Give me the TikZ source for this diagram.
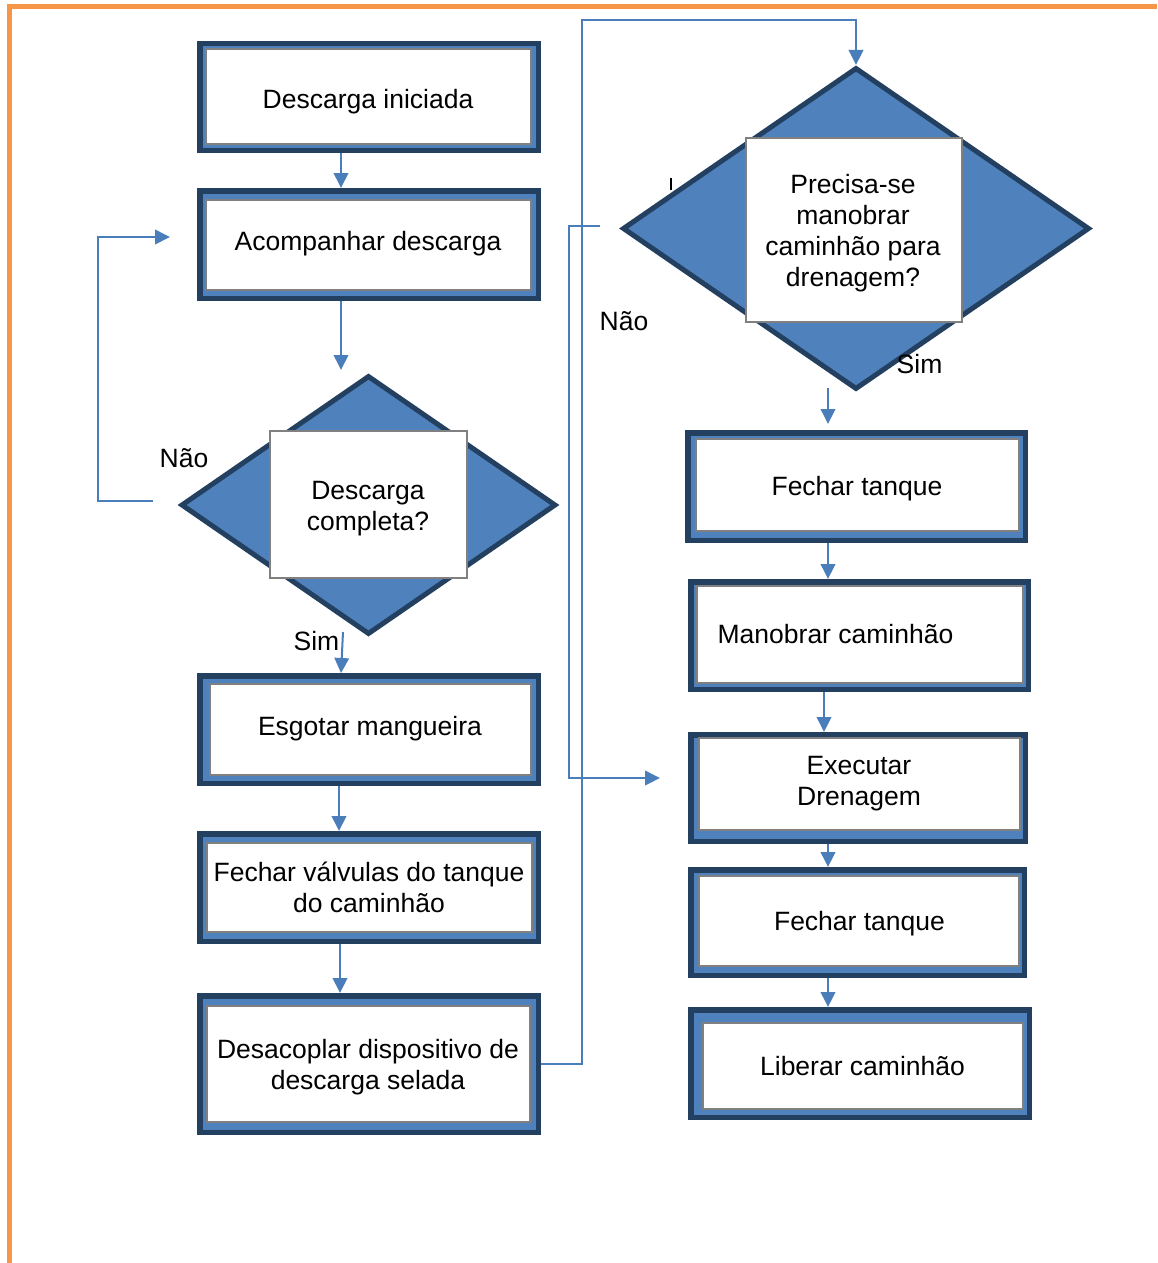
\documentclass[tikz,border=0pt]{standalone}
\usepackage{fontspec}
\setmainfont{Liberation Sans}
\usetikzlibrary{arrows.meta,shapes.geometric}
\definecolor{boxnavy}{RGB}{36,64,97}
\definecolor{fillblue}{RGB}{79,129,189}
\definecolor{edgegray}{RGB}{128,128,128}
\definecolor{connblue}{RGB}{74,126,187}
\definecolor{frameorange}{RGB}{247,150,70}
\newcommand{\sst}{\rule[-6pt]{0pt}{31pt}}
\newcommand{\flowbx}[9]{%
  \node[outerbox, minimum width={#4-#2-5.5}, minimum height={#5-#3-5.5}] (#1) at ({(#2+#4)/2},{(#3+#5)/2}) {};
  \node[innerbox, minimum width={#8-#6-2.3}, minimum height={#9-#7-2.3}] (#1-in) at ({(#6+#8)/2},{(#7+#9)/2}) {};
}
\begin{document}
\begin{tikzpicture}[x=1pt, y=-1pt,
  outerbox/.style={draw=boxnavy, fill=fillblue, line width=5.5pt, inner sep=0pt},
  innerbox/.style={draw=edgegray, fill=white, line width=2.3pt, inner sep=0pt},
  txt/.style={inner sep=0pt, align=center, font=\fontsize{26.5}{31}\selectfont},
  conn/.style={draw=connblue, line width=2pt},
  arr/.style={conn, -{Triangle[length=15pt,width=14.5pt]}},
  dec/.style={diamond, draw=boxnavy, fill=fillblue, line width=5pt, inner sep=0pt, line join=miter}]
\useasboundingbox[fill=white] (0,0) rectangle (1157,1263);
% orange frame
\draw[frameorange, line width=5pt] (9.5,1263) -- (9.5,6.5) -- (1157,6.5);

% left column boxes
\flowbx{b1}{197}{41}{541}{153}{205}{48}{532}{145}
\flowbx{b2}{197}{188}{541}{301}{205}{199}{532}{291}
\flowbx{b3}{197}{673}{541}{786}{209}{683}{532}{776}
\flowbx{b4}{197}{831}{541}{944}{206}{842}{533}{933}
\flowbx{b5}{197}{993}{541}{1135}{206}{1005}{531}{1123}
% right column boxes
\flowbx{b6}{685}{430}{1028}{543}{695}{438}{1020}{532}
\flowbx{b7}{688}{579}{1031}{692}{696}{585}{1024}{684}
\flowbx{b8}{688}{732}{1028}{844}{698}{737}{1021}{831}
\flowbx{b9}{688}{867}{1027}{978}{698}{875}{1020}{967}
\flowbx{b10}{688}{1007}{1032}{1120}{702}{1022}{1024}{1110}

% decisions
\node[dec, minimum width=375, minimum height=259] (D1) at (368.5,505) {};
\node[innerbox, minimum width={468-269-2.3}, minimum height={579-430-2.3}] (D1-in) at (368.5,504.5) {};
\node[dec, minimum width=467, minimum height=322] (D2) at (856,228.5) {};
\node[innerbox, minimum width={963-745-2.3}, minimum height={323-137-2.3}] (D2-in) at (854,230) {};

% texts
\node[txt] (b1-t) at (368,98.5) {\sst Descarga iniciada};
\node[txt] (b2-t) at (368,241) {\sst Acompanhar descarga};
\node[txt] (D1-t) at (368,505.5) {\sst Descarga\\\sst completa?};
\node[txt] (b3-t) at (370,726) {\sst Esgotar mangueira};
\node[txt] (b4-t) at (369,887) {\sst Fechar válvulas do tanque\\\sst do caminhão};
\node[txt] (b5-t) at (368,1064.5) {\sst Desacoplar dispositivo de\\\sst descarga selada};
\node[txt] (D2-t) at (853,230) {\sst Precisa-se\\\sst manobrar\\\sst caminhão para\\\sst drenagem?};
\node[txt] (b6-t) at (857,486) {\sst Fechar tanque};
\node[txt] (b7-t) at (835.5,634) {\sst Manobrar caminhão};
\node[txt] (b8-t) at (859,780) {\sst Executar\\\sst Drenagem};
\node[txt] (b9-t) at (859.5,921) {\sst Fechar tanque};
\node[txt] (b10-t) at (862.5,1066) {\sst Liberar caminhão};
% branch labels
\node[txt] (l1) at (184,458) {\sst Não};
\node[txt] (l2) at (316.5,640.5) {\sst Sim};
\node[txt] (l3) at (624,321) {\sst Não};
\node[txt] (l4) at (919.5,364) {\sst Sim};
% small clipped mark
\draw[black, line width=1.6pt] (671,178) -- (671,190);

% column coordinates
\coordinate (xa) at (341,0);
\coordinate (xb) at (339,0);
\coordinate (xc) at (340,0);
\coordinate (xr) at (828,0);
\coordinate (xs) at (824,0);

% connectors left column
\draw[arr] (b1.south -| xa) -- (b2.north -| xa);
\coordinate (d1in) at (341,370);
\draw[arr] (b2.south -| xa) -- (d1in);
\coordinate (d1sim) at (343,632);
\draw[arr] (d1sim) -- (b3.north -| xa);
\draw[arr] (b3.south -| xb) -- (b4.north -| xb);
\draw[arr] (b4.south -| xc) -- (b5.north -| xc);
% Nao loop of D1
\coordinate (d1no) at (153,501);
\coordinate (b2back) at (170,237);
\draw[arr] (d1no) -- ++(-55,0) |- (b2back);
% Desacoplar to D2
\coordinate (topL) at (582,20);
\draw[arr] (b5.east) -| (topL) -| (D2.north);
% Nao of D2
\coordinate (d2no) at (600,226);
\coordinate (b8back) at (660,778);
\draw[arr] (d2no) -- ++(-31,0) |- (b8back);
% Sim of D2
\coordinate (d2sim) at (828,388);
\coordinate (b6top) at (828,424);
\draw[arr] (d2sim) -- (b6top);
% right column
\draw[arr] (b6.south -| xr) -- (b7.north -| xr);
\draw[arr] (b7.south -| xs) -- (b8.north -| xs);
\draw[arr] (b8.south -| xr) -- (b9.north -| xr);
\draw[arr] (b9.south -| xr) -- (b10.north -| xr);
\end{tikzpicture}
\end{document}
